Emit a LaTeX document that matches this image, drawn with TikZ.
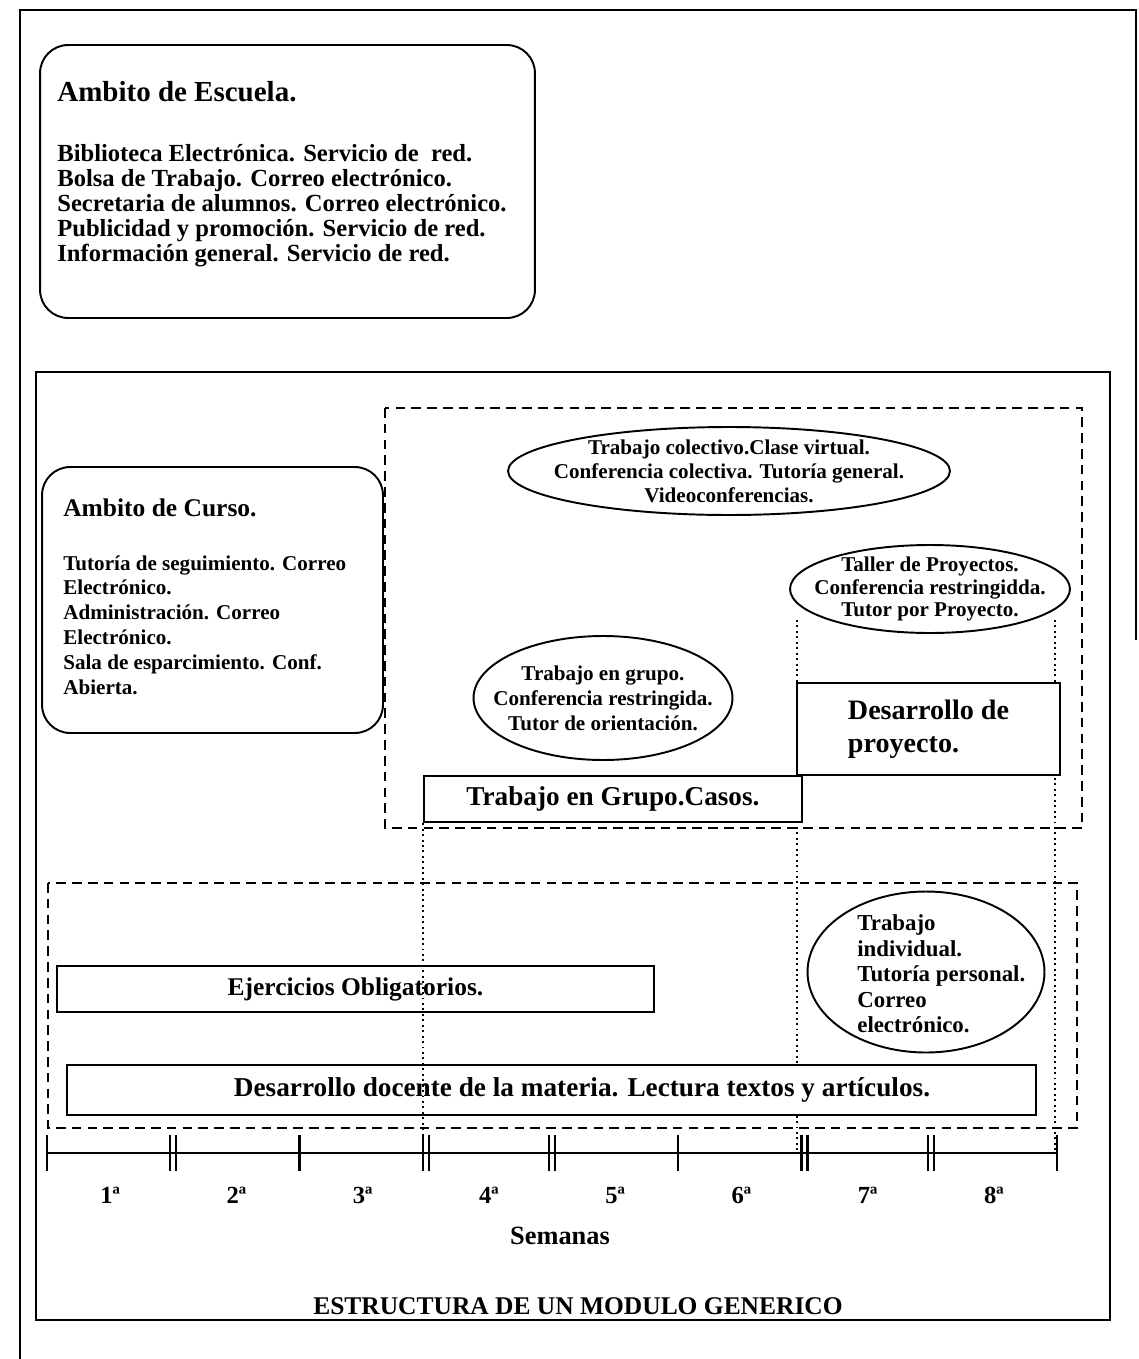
\documentclass[tikz,border=0pt]{standalone}
\usepackage{fontspec}
\setmainfont{Liberation Serif}
\usepackage{tikz}
\usetikzlibrary{calc, shapes.geometric}
\newcommand{\letra}[2]{\fontsize{#1}{#2}\selectfont\bfseries}

\begin{document}
\begin{tikzpicture}[x=0.02cm, y=-0.02cm,
  ambito/.style={draw, line width=1.1pt, rounded corners=16pt},
  barra/.style={draw, line width=1.4pt, inner sep=0pt, align=center},
  nube/.style={draw, ellipse, line width=1.1pt, inner sep=0pt},
  bloque/.style={line width=1.2pt, dash pattern=on 5.5pt off 3.5pt},
  guia/.style={line width=1.1pt, dotted},
  txt/.style={inner sep=0pt, align=center}]
  \useasboundingbox (0,0) rectangle (1139,1359);
  % marco exterior y marco del modulo
  \draw[line width=1.2pt] (20,1359) -- (20,10) -- (1136,10) -- (1136,640);
  \draw[line width=1.6pt] (36,372) rectangle (1110,1320);

  % ambito de escuela
  \node[ambito, minimum width=9.9cm, minimum height=5.46cm] (escuela) at (287.5,181.5) {};
  \node[txt, anchor=west, font=\letra{16.5}{18}] (escuelaT) at (57,92) {Ambito de Escuela.};
  \node[txt, anchor=north west, align=left, font=\letra{14}{14.2}] (escuelaL) at (57,144)
    {Biblioteca Electrónica. Servicio de\ \ red.\\
     Bolsa de Trabajo. Correo electrónico.\\
     Secretaria de alumnos. Correo electrónico.\\
     Publicidad y promoción. Servicio de red.\\
     Información general. Servicio de red.};

  % ambito de curso
  \node[ambito, minimum width=6.82cm, minimum height=5.32cm] (curso) at (212.5,600) {};
  \node[txt, anchor=west, font=\letra{14.5}{16}] (cursoT) at (63,508) {Ambito de Curso.};
  \node[txt, anchor=north west, align=left, font=\letra{12}{14.2}] (cursoL) at (63,555)
    {Tutoría de seguimiento. Correo\\
     Electrónico.\\
     Administración. Correo\\
     Electrónico.\\
     Sala de esparcimiento. Conf.\\
     Abierta.};

  % trabajo en grupo y proyecto
  \draw[bloque] (385,408) rectangle (1082,828);
  \node[nube, minimum width=8.84cm, minimum height=1.76cm] (colectivo) at (729,471) {};
  \node[txt, font=\letra{12}{13.7}] (colectivoT) at (colectivo.center)
    {Trabajo colectivo.Clase virtual.\\ Conferencia colectiva. Tutoría general.\\ Videoconferencias.};
  \node[nube, minimum width=5.6cm, minimum height=1.76cm] (taller) at (930,589) {};
  \node[txt, font=\letra{12}{12.8}] (tallerT) at (taller.center)
    {Taller de Proyectos.\\ Conferencia restringidda.\\ Tutor por Proyecto.};
  \node[nube, minimum width=5.18cm, minimum height=2.48cm] (grupo) at (603,698) {};
  \node[txt, font=\letra{12}{14.2}] (grupoT) at (grupo.center)
    {Trabajo en grupo.\\ Conferencia restringida.\\ Tutor de orientación.};
  \draw[guia] (797,620) -- (797,1150);
  \draw[guia] (1055,620) -- (1055,1150);
  \node[barra, align=left, fill=white, minimum width=5.26cm, minimum height=1.84cm, font=\letra{16}{18.8}] (proyecto) at (928.5,729)
    {Desarrollo de\\ proyecto.};
  \node[barra, fill=white, minimum width=7.56cm, minimum height=0.92cm, font=\letra{15.5}{17}] (casos) at (613,799)
    {Trabajo en Grupo.Casos.};

  % trabajo individual
  \draw[bloque] (48,883) rectangle (1077,1128);
  \node[nube, fill=white, minimum width=4.74cm, minimum height=3.22cm] (individual) at (926,972) {};
  \node[txt, anchor=west, align=left, font=\letra{13}{14.5}] (individualT) at (857,974)
    {Trabajo\\ individual.\\ Tutoría personal.\\ Correo\\ electrónico.};
  \node[barra, minimum width=11.94cm, minimum height=0.92cm, font=\letra{14.5}{16}] (ejercicios) at (355.5,989)
    {Ejercicios Obligatorios.};
  \node[barra, fill=white, minimum width=19.38cm, minimum height=1cm] (docente) at (551.5,1090) {};
  \node[txt, font=\letra{15.5}{17}] (docenteT) at (582,1090)
    {Desarrollo docente de la materia. Lectura textos y artículos.};

  % semanas
  \foreach \k in {0,...,8}
    \coordinate (t\k) at ({47+126.25*\k},1153);
  \draw[guia] (casos.south west) -- (casos.south west |- t3);
  \draw[line width=1.2pt] (t0) -- (t8);
  \foreach \k in {0,2,5,8}
    \draw[line width=1.2pt] ($(t\k)+(0,-18)$) -- ($(t\k)+(0,18)$);
  \foreach \k in {1,3,4,6,7} {
    \draw[line width=1.2pt] ($(t\k)+(-3,-18)$) -- ($(t\k)+(-3,18)$);
    \draw[line width=1.2pt] ($(t\k)+(3,-18)$) -- ($(t\k)+(3,18)$);
  }
  \foreach \n in {1,...,8}
    \node[txt, font=\letra{14}{15}] (sem\n) at ({47+126.25*(\n-0.5)},1195) {\n{}ª};
  \node[txt, font=\letra{15}{16}] (semanas) at (560,1236) {Semanas};
  \node[txt, font=\letra{14.5}{16}] (titulo) at (578,1306) {ESTRUCTURA DE UN MODULO GENERICO};
\end{tikzpicture}
\end{document}
